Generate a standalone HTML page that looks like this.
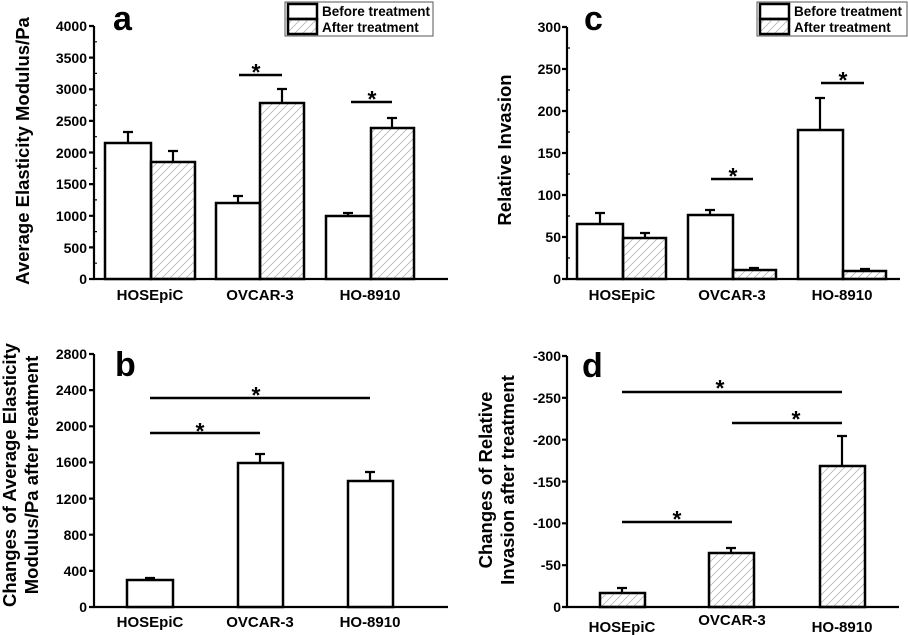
<!DOCTYPE html>
<html><head><meta charset="utf-8"><style>
html,body{margin:0;padding:0;background:#fff}
svg{display:block}
text{font-family:"Liberation Sans",Arial,sans-serif;font-weight:bold;fill:#000}
.t{font-size:14px;text-anchor:end}
.x{font-size:15px;text-anchor:middle}
.yt2{font-size:18.5px;text-anchor:middle}
.lab{font-size:34px}
.st{font-size:23px;text-anchor:middle}
.lg{font-size:13.5px}
</style></head><body>
<svg width="908" height="635" viewBox="0 0 908 635" xmlns="http://www.w3.org/2000/svg">
<defs><pattern id="h" patternUnits="userSpaceOnUse" width="8" height="8"><path d="M-1,9 L9,-1 M-1,1 L1,-1 M7,9 L9,7" stroke="#a8a8a8" stroke-width="0.7"/></pattern></defs>
<g stroke="#000" fill="none" stroke-width="2.2">
<path d="M94,26 V279 H448"/>
<path d="M89,26H94M89,57.6H94M89,89.3H94M89,120.9H94M89,152.5H94M89,184.1H94M89,215.8H94M89,247.4H94M89,279H94"/>
<path stroke-width="1.2" d="M94,41.8H97M94,73.4H97M94,105.1H97M94,136.7H97M94,168.3H97M94,199.9H97M94,231.6H97M94,263.2H97"/>
<rect x="105" y="143" width="46" height="136" fill="#fff" stroke-width="2.5"/>
<rect x="151" y="162" width="44" height="117" fill="url(#h)" stroke-width="2.5"/>
<rect x="216" y="203" width="44" height="76" fill="#fff" stroke-width="2.5"/>
<rect x="260" y="103" width="44" height="176" fill="url(#h)" stroke-width="2.5"/>
<rect x="326" y="216" width="45" height="63" fill="#fff" stroke-width="2.5"/>
<rect x="371" y="128" width="43" height="151" fill="url(#h)" stroke-width="2.5"/>
<path d="M128,143V132M123,132H133M173,162V151M168,151H178M238,203V196M233,196H243M282,103V89M277,89H287M348,216V213M343,213H353M392,128V118M387,118H397"/>
<path stroke-width="2.5" d="M239,75H282M351,102H392"/>
<rect x="285" y="2" width="148" height="34" stroke-width="1" stroke="#555"/>
<rect x="288" y="4" width="29" height="15" stroke-width="2.5"/>
<rect x="288" y="19" width="29" height="15" fill="url(#h)" stroke-width="2.5"/>
<path d="M567,27 V279 H900"/>
<path d="M562,27H567M562,69H567M562,111H567M562,153H567M562,195H567M562,237H567M562,279H567"/>
<path stroke-width="1.2" d="M567,48H570M567,90H570M567,132H570M567,174H570M567,216H570M567,258H570"/>
<rect x="577" y="224" width="46" height="55" fill="#fff" stroke-width="2.5"/>
<rect x="623" y="238" width="43" height="41" fill="url(#h)" stroke-width="2.5"/>
<rect x="688" y="215" width="45" height="64" fill="#fff" stroke-width="2.5"/>
<rect x="733" y="270" width="43" height="9" fill="url(#h)" stroke-width="2.5"/>
<rect x="798" y="130" width="45" height="149" fill="#fff" stroke-width="2.5"/>
<rect x="843" y="271" width="43" height="8" fill="url(#h)" stroke-width="2.5"/>
<path d="M600,224V213M595,213H605M645,238V233M640,233H650M710,215V210M705,210H715M754,270V268M749,268H759M820,130V98M815,98H825M865,271V269M860,269H870"/>
<path stroke-width="2.5" d="M711,179H753M821,83H864"/>
<rect x="757" y="2" width="150" height="34" stroke-width="1" stroke="#555"/>
<rect x="760" y="4" width="29" height="15" stroke-width="2.5"/>
<rect x="760" y="19" width="29" height="15" fill="url(#h)" stroke-width="2.5"/>
<path d="M94,354 V607 H448"/>
<path d="M89,354H94M89,390.1H94M89,426.3H94M89,462.4H94M89,498.6H94M89,534.7H94M89,570.9H94M89,607H94"/>
<rect x="127" y="580" width="46" height="27" fill="#fff" stroke-width="2.5"/>
<rect x="238" y="463" width="45" height="144" fill="#fff" stroke-width="2.5"/>
<rect x="348" y="481" width="45" height="126" fill="#fff" stroke-width="2.5"/>
<path d="M150,580V578M145,578H155M260,463V454M255,454H265M370,481V472M365,472H375"/>
<path stroke-width="2.5" d="M150,398H370M150,433H260"/>
<path d="M567,356 V607 H899"/>
<path d="M562,356H567M562,397.8H567M562,439.7H567M562,481.5H567M562,523.3H567M562,565.2H567M562,607H567"/>
<rect x="600" y="593" width="45" height="14" fill="url(#h)" stroke-width="2.5"/>
<rect x="709" y="553" width="45" height="54" fill="url(#h)" stroke-width="2.5"/>
<rect x="820" y="466" width="45" height="141" fill="url(#h)" stroke-width="2.5"/>
<path d="M622,593V588M617,588H627M731,553V548M726,548H736M842,466V436M837,436H847"/>
<path stroke-width="2.5" d="M622,392H842M732,423H842M622,522H732"/>
</g>
<text class="lab" x="113" y="30">a</text>
<g class="t"><text x="87" y="31">4000</text><text x="87" y="63">3500</text><text x="87" y="94">3000</text><text x="87" y="126">2500</text><text x="87" y="158">2000</text><text x="87" y="189">1500</text><text x="87" y="221">1000</text><text x="87" y="253">500</text><text x="87" y="284">0</text></g>
<g class="x"><text x="150" y="300">HOSEpiC</text><text x="260" y="300">OVCAR-3</text><text x="370" y="300">HO-8910</text></g>
<text class="yt2" transform="translate(29,151) rotate(-90)">Average Elasticity Modulus/Pa</text>
<text class="st" x="256" y="80">*</text><text class="st" x="372" y="107">*</text>
<text class="lg" x="322" y="16">Before treatment</text><text class="lg" x="322" y="32">After treatment</text>
<text class="lab" x="584" y="30">c</text>
<g class="t"><text x="561" y="32">300</text><text x="561" y="74">250</text><text x="561" y="116">200</text><text x="561" y="158">150</text><text x="561" y="200">100</text><text x="561" y="242">50</text><text x="561" y="284">0</text></g>
<g class="x"><text x="622" y="300">HOSEpiC</text><text x="732" y="300">OVCAR-3</text><text x="842" y="300">HO-8910</text></g>
<text class="yt2" transform="translate(511,150) rotate(-90)">Relative Invasion</text>
<text class="st" x="733" y="184">*</text><text class="st" x="843" y="88">*</text>
<text class="lg" x="794" y="16">Before treatment</text><text class="lg" x="794" y="32">After treatment</text>
<text class="lab" x="115" y="376">b</text>
<g class="t"><text x="87" y="359">2800</text><text x="87" y="395">2400</text><text x="87" y="431">2000</text><text x="87" y="467">1600</text><text x="87" y="504">1200</text><text x="87" y="540">800</text><text x="87" y="576">400</text><text x="87" y="612">0</text></g>
<g class="x"><text x="150" y="627">HOSEpiC</text><text x="260" y="627">OVCAR-3</text><text x="370" y="627">HO-8910</text></g>
<text class="yt2" transform="translate(16,475) rotate(-90)">Changes of Average Elasticity</text>
<text class="yt2" transform="translate(38,475) rotate(-90)">Modulus/Pa after treatment</text>
<text class="st" x="256" y="403">*</text><text class="st" x="200" y="439">*</text>
<text class="lab" x="582" y="377">d</text>
<g class="t"><text x="561" y="361">-300</text><text x="561" y="403">-250</text><text x="561" y="445">-200</text><text x="561" y="487">-150</text><text x="561" y="528">-100</text><text x="561" y="570">-50</text><text x="561" y="612">0</text></g>
<g class="x"><text x="622" y="632">HOSEpiC</text><text x="732" y="625">OVCAR-3</text><text x="842" y="632">HO-8910</text></g>
<text class="yt2" transform="translate(492,480) rotate(-90)">Changes of Relative</text>
<text class="yt2" transform="translate(514,480) rotate(-90)">Invasion after treatment</text>
<text class="st" x="720" y="396">*</text><text class="st" x="796" y="427">*</text><text class="st" x="677" y="527">*</text>
</svg>
</body></html>
